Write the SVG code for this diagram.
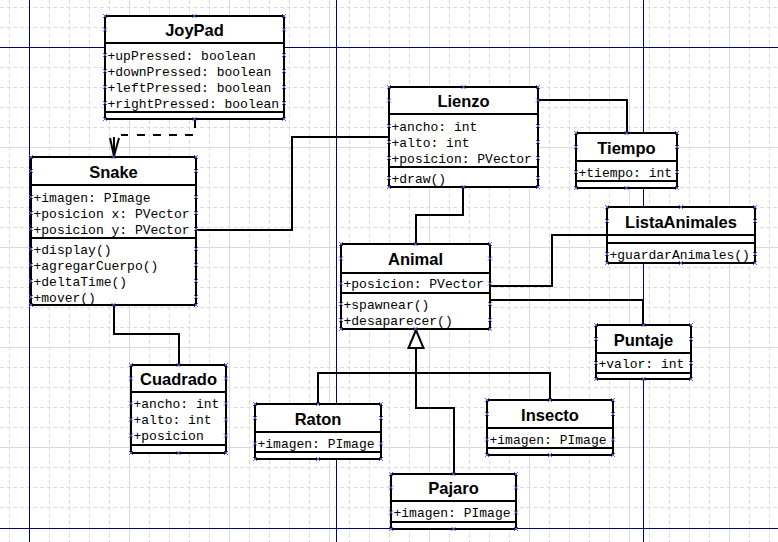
<svg xmlns="http://www.w3.org/2000/svg" xmlns:xlink="http://www.w3.org/1999/xlink" width="778" height="542" viewBox="0 0 778 542">
<style>
.box{fill:#fff;stroke:#000;stroke-width:2}
.sep{stroke:#000;stroke-width:2;fill:none}
.t{font-family:"Liberation Sans",Arial,sans-serif;font-weight:bold;font-size:16.5px;text-anchor:middle;fill:#000}
.m{font-family:"Liberation Mono","Courier New",monospace;font-size:13px;fill:#000}
.con{stroke:#000;stroke-width:2;fill:none}
.minor{stroke:#dadcdc;stroke-width:1;stroke-dasharray:4 2.667;fill:none}
.major{stroke:#d6dcdc;stroke-width:1;fill:none}
.page{stroke:#00008b;stroke-width:1;fill:none}
</style>
<defs>
<path id="hx" d="M-2,-2L2,2M-2,2L2,-2" stroke="#5a5ae6" stroke-width="1" fill="none"/>
</defs>
<rect width="778" height="542" fill="#fff"/>
<g id="grid">
<path class="minor" d="M9.5,0V542M49.5,0V542M69.5,0V542M89.5,0V542M109.5,0V542M149.5,0V542M169.5,0V542M189.5,0V542M209.5,0V542M249.5,0V542M269.5,0V542M289.5,0V542M309.5,0V542M349.5,0V542M369.5,0V542M389.5,0V542M409.5,0V542M449.5,0V542M469.5,0V542M489.5,0V542M509.5,0V542M549.5,0V542M569.5,0V542M589.5,0V542M609.5,0V542M649.5,0V542M669.5,0V542M689.5,0V542M709.5,0V542M749.5,0V542M769.5,0V542"/>
<path class="minor" d="M0,7.5H778M0,27.5H778M0,67.5H778M0,87.5H778M0,107.5H778M0,127.5H778M0,167.5H778M0,187.5H778M0,207.5H778M0,227.5H778M0,267.5H778M0,287.5H778M0,307.5H778M0,327.5H778M0,367.5H778M0,387.5H778M0,407.5H778M0,427.5H778M0,467.5H778M0,487.5H778M0,507.5H778"/>
<path class="major" d="M129.5,0V542M229.5,0V542M329.5,0V542M429.5,0V542M529.5,0V542M629.5,0V542M729.5,0V542M0,147.5H778M0,247.5H778M0,347.5H778M0,447.5H778"/>
<path class="page" d="M29.5,0V542M336.5,0V542M643.5,0V542M0,47.5H778M0,528.5H778"/>
</g>
<g id="connectors">
<path class="con" d="M195,119V128M193,135H185M177,135H169M161,135H153M145,135H137M128,135H121"/>
<path class="con" d="M114,137V157M110,138L114,156L119,138"/>
<path class="con" d="M196,230H292V137H389"/>
<path class="con" d="M538,100H627V133"/>
<path class="con" d="M463,187V215H416V244"/>
<path class="con" d="M490,286H552V235H607"/>
<path class="con" d="M490,300H643V325"/>
<path class="con" d="M114,305V334H179V365"/>
<path class="con" d="M416,348V408H454V474M318,404V373H550V400"/>
<path class="con" d="M416,330L408.5,348H423.5Z" fill="#fff"/>
</g>
<g id="JoyPad">
<rect class="box" x="105" y="16" width="179" height="103"/>
<path class="sep" d="M105,43H284M105,112H284"/>
<text class="t" x="194.5" y="36">JoyPad</text>
<text class="m" x="107.5" y="59.5">+upPressed: boolean</text>
<text class="m" x="107.5" y="75.5">+downPressed: boolean</text>
<text class="m" x="107.5" y="91.5">+leftPressed: boolean</text>
<text class="m" x="107.5" y="107.5">+rightPressed: boolean</text>
</g>
<g id="Snake">
<rect class="box" x="31" y="157" width="165" height="148"/>
<path class="sep" d="M31,185H196M31,238H196"/>
<text class="t" x="113.5" y="177.5">Snake</text>
<text class="m" x="33.5" y="201.5">+imagen: PImage</text>
<text class="m" x="33.5" y="217.5">+posicion x: PVector</text>
<text class="m" x="33.5" y="233.5">+posicion y: PVector</text>
<text class="m" x="33.5" y="253.5">+display()</text>
<text class="m" x="33.5" y="269.5">+agregarCuerpo()</text>
<text class="m" x="33.5" y="285.5">+deltaTime()</text>
<text class="m" x="33.5" y="301.5">+mover()</text>
</g>
<g id="Lienzo">
<rect class="box" x="389" y="87" width="149" height="100"/>
<path class="sep" d="M389,114H538M389,167H538"/>
<text class="t" x="463.5" y="107">Lienzo</text>
<text class="m" x="391.5" y="130.5">+ancho: int</text>
<text class="m" x="391.5" y="146.5">+alto: int</text>
<text class="m" x="391.5" y="162.5">+posicion: PVector</text>
<text class="m" x="391.5" y="182.5">+draw()</text>
</g>
<g id="Tiempo">
<rect class="box" x="576" y="133" width="101" height="55"/>
<path class="sep" d="M576,161H677M576,181H677"/>
<text class="t" x="626.5" y="153.5">Tiempo</text>
<text class="m" x="578.5" y="176.5">+tiempo: int</text>
</g>
<g id="ListaAnimales">
<rect class="box" x="607" y="207" width="148" height="56"/>
<path class="sep" d="M607,235H755M607,243H755"/>
<text class="t" x="681" y="227.5">ListaAnimales</text>
<text class="m" x="609.5" y="258.5">+guardarAnimales()</text>
</g>
<g id="Animal">
<rect class="box" x="341" y="244" width="149" height="85"/>
<path class="sep" d="M341,273H490M341,293H490"/>
<text class="t" x="415.5" y="265">Animal</text>
<text class="m" x="343.5" y="288">+posicion: PVector</text>
<text class="m" x="343.5" y="308.5">+spawnear()</text>
<text class="m" x="343.5" y="324.5">+desaparecer()</text>
</g>
<g id="Puntaje">
<rect class="box" x="596" y="325" width="95" height="54"/>
<path class="sep" d="M596,353H691M596,373H691"/>
<text class="t" x="643.5" y="345.5">Puntaje</text>
<text class="m" x="598.5" y="367.5">+valor: int</text>
</g>
<g id="Cuadrado">
<rect class="box" x="131" y="365" width="95" height="88"/>
<path class="sep" d="M131,392H226M131,445H226"/>
<text class="t" x="178.5" y="385">Cuadrado</text>
<text class="m" x="133.5" y="408">+ancho: int</text>
<text class="m" x="133.5" y="424">+alto: int</text>
<text class="m" x="133.5" y="440">+posicion</text>
</g>
<g id="Raton">
<rect class="box" x="255" y="404" width="126" height="55"/>
<path class="sep" d="M255,432H381M255,452H381"/>
<text class="t" x="318" y="424.5">Raton</text>
<text class="m" x="257.5" y="448">+imagen: PImage</text>
</g>
<g id="Insecto">
<rect class="box" x="487" y="400" width="126" height="55"/>
<path class="sep" d="M487,428H613M487,448H613"/>
<text class="t" x="550" y="420.5">Insecto</text>
<text class="m" x="489.5" y="444">+imagen: PImage</text>
</g>
<g id="Pajaro">
<rect class="box" x="391" y="474" width="125" height="55"/>
<path class="sep" d="M391,501H516M391,522H516"/>
<text class="t" x="453.5" y="494">Pajaro</text>
<text class="m" x="393.5" y="517">+imagen: PImage</text>
</g>
<g id="handles">
<use xlink:href="#hx" x="105" y="16"/><use xlink:href="#hx" x="194.5" y="16"/><use xlink:href="#hx" x="284" y="16"/>
<use xlink:href="#hx" x="105" y="29.5"/><use xlink:href="#hx" x="284" y="29.5"/>
<use xlink:href="#hx" x="105" y="55"/><use xlink:href="#hx" x="284" y="55"/>
<use xlink:href="#hx" x="105" y="71"/><use xlink:href="#hx" x="284" y="71"/>
<use xlink:href="#hx" x="105" y="87"/><use xlink:href="#hx" x="284" y="87"/>
<use xlink:href="#hx" x="105" y="103"/><use xlink:href="#hx" x="284" y="103"/>
<use xlink:href="#hx" x="105" y="119"/><use xlink:href="#hx" x="194.5" y="119"/><use xlink:href="#hx" x="284" y="119"/>

<use xlink:href="#hx" x="31" y="157"/><use xlink:href="#hx" x="113.5" y="157"/><use xlink:href="#hx" x="196" y="157"/>
<use xlink:href="#hx" x="31" y="171"/><use xlink:href="#hx" x="196" y="171"/>
<use xlink:href="#hx" x="31" y="197"/><use xlink:href="#hx" x="196" y="197"/>
<use xlink:href="#hx" x="31" y="213"/><use xlink:href="#hx" x="196" y="213"/>
<use xlink:href="#hx" x="31" y="229"/><use xlink:href="#hx" x="196" y="229"/>
<use xlink:href="#hx" x="31" y="249"/><use xlink:href="#hx" x="196" y="249"/>
<use xlink:href="#hx" x="31" y="265"/><use xlink:href="#hx" x="196" y="265"/>
<use xlink:href="#hx" x="31" y="281"/><use xlink:href="#hx" x="196" y="281"/>
<use xlink:href="#hx" x="31" y="297"/><use xlink:href="#hx" x="196" y="297"/>
<use xlink:href="#hx" x="31" y="305"/><use xlink:href="#hx" x="113.5" y="305"/><use xlink:href="#hx" x="196" y="305"/>

<use xlink:href="#hx" x="389" y="87"/><use xlink:href="#hx" x="463.5" y="87"/><use xlink:href="#hx" x="538" y="87"/>
<use xlink:href="#hx" x="389" y="100.5"/><use xlink:href="#hx" x="538" y="100.5"/>
<use xlink:href="#hx" x="389" y="126"/><use xlink:href="#hx" x="538" y="126"/>
<use xlink:href="#hx" x="389" y="142"/><use xlink:href="#hx" x="538" y="142"/>
<use xlink:href="#hx" x="389" y="158"/><use xlink:href="#hx" x="538" y="158"/>
<use xlink:href="#hx" x="389" y="178"/><use xlink:href="#hx" x="538" y="178"/>
<use xlink:href="#hx" x="389" y="187"/><use xlink:href="#hx" x="463.5" y="187"/><use xlink:href="#hx" x="538" y="187"/>

<use xlink:href="#hx" x="576" y="133"/><use xlink:href="#hx" x="626.5" y="133"/><use xlink:href="#hx" x="677" y="133"/>
<use xlink:href="#hx" x="576" y="147"/><use xlink:href="#hx" x="677" y="147"/>
<use xlink:href="#hx" x="576" y="172"/><use xlink:href="#hx" x="677" y="172"/>
<use xlink:href="#hx" x="576" y="188"/><use xlink:href="#hx" x="626.5" y="188"/><use xlink:href="#hx" x="677" y="188"/>

<use xlink:href="#hx" x="607" y="207"/><use xlink:href="#hx" x="681" y="207"/><use xlink:href="#hx" x="755" y="207"/>
<use xlink:href="#hx" x="607" y="221"/><use xlink:href="#hx" x="755" y="221"/>
<use xlink:href="#hx" x="607" y="254"/><use xlink:href="#hx" x="755" y="254"/>
<use xlink:href="#hx" x="607" y="263"/><use xlink:href="#hx" x="681" y="263"/><use xlink:href="#hx" x="755" y="263"/>

<use xlink:href="#hx" x="341" y="244"/><use xlink:href="#hx" x="415.5" y="244"/><use xlink:href="#hx" x="490" y="244"/>
<use xlink:href="#hx" x="341" y="258.5"/><use xlink:href="#hx" x="490" y="258.5"/>
<use xlink:href="#hx" x="341" y="283.5"/><use xlink:href="#hx" x="490" y="283.5"/>
<use xlink:href="#hx" x="341" y="304"/><use xlink:href="#hx" x="490" y="304"/>
<use xlink:href="#hx" x="341" y="320"/><use xlink:href="#hx" x="490" y="320"/>
<use xlink:href="#hx" x="341" y="329"/><use xlink:href="#hx" x="415.5" y="329"/><use xlink:href="#hx" x="490" y="329"/>

<use xlink:href="#hx" x="596" y="325"/><use xlink:href="#hx" x="643.5" y="325"/><use xlink:href="#hx" x="691" y="325"/>
<use xlink:href="#hx" x="596" y="339"/><use xlink:href="#hx" x="691" y="339"/>
<use xlink:href="#hx" x="596" y="363"/><use xlink:href="#hx" x="691" y="363"/>
<use xlink:href="#hx" x="596" y="379"/><use xlink:href="#hx" x="643.5" y="379"/><use xlink:href="#hx" x="691" y="379"/>

<use xlink:href="#hx" x="131" y="365"/><use xlink:href="#hx" x="178.5" y="365"/><use xlink:href="#hx" x="226" y="365"/>
<use xlink:href="#hx" x="131" y="378.5"/><use xlink:href="#hx" x="226" y="378.5"/>
<use xlink:href="#hx" x="131" y="403.5"/><use xlink:href="#hx" x="226" y="403.5"/>
<use xlink:href="#hx" x="131" y="419.5"/><use xlink:href="#hx" x="226" y="419.5"/>
<use xlink:href="#hx" x="131" y="435.5"/><use xlink:href="#hx" x="226" y="435.5"/>
<use xlink:href="#hx" x="131" y="453"/><use xlink:href="#hx" x="178.5" y="453"/><use xlink:href="#hx" x="226" y="453"/>

<use xlink:href="#hx" x="255" y="404"/><use xlink:href="#hx" x="318" y="404"/><use xlink:href="#hx" x="381" y="404"/>
<use xlink:href="#hx" x="255" y="418"/><use xlink:href="#hx" x="381" y="418"/>
<use xlink:href="#hx" x="255" y="443.5"/><use xlink:href="#hx" x="381" y="443.5"/>
<use xlink:href="#hx" x="255" y="459"/><use xlink:href="#hx" x="318" y="459"/><use xlink:href="#hx" x="381" y="459"/>

<use xlink:href="#hx" x="487" y="400"/><use xlink:href="#hx" x="550" y="400"/><use xlink:href="#hx" x="613" y="400"/>
<use xlink:href="#hx" x="487" y="414"/><use xlink:href="#hx" x="613" y="414"/>
<use xlink:href="#hx" x="487" y="439.5"/><use xlink:href="#hx" x="613" y="439.5"/>
<use xlink:href="#hx" x="487" y="455"/><use xlink:href="#hx" x="550" y="455"/><use xlink:href="#hx" x="613" y="455"/>

<use xlink:href="#hx" x="391" y="474"/><use xlink:href="#hx" x="453.5" y="474"/><use xlink:href="#hx" x="516" y="474"/>
<use xlink:href="#hx" x="391" y="487.5"/><use xlink:href="#hx" x="516" y="487.5"/>
<use xlink:href="#hx" x="391" y="512.5"/><use xlink:href="#hx" x="516" y="512.5"/>
<use xlink:href="#hx" x="391" y="529"/><use xlink:href="#hx" x="453.5" y="529"/><use xlink:href="#hx" x="516" y="529"/>
</g>
</svg>
